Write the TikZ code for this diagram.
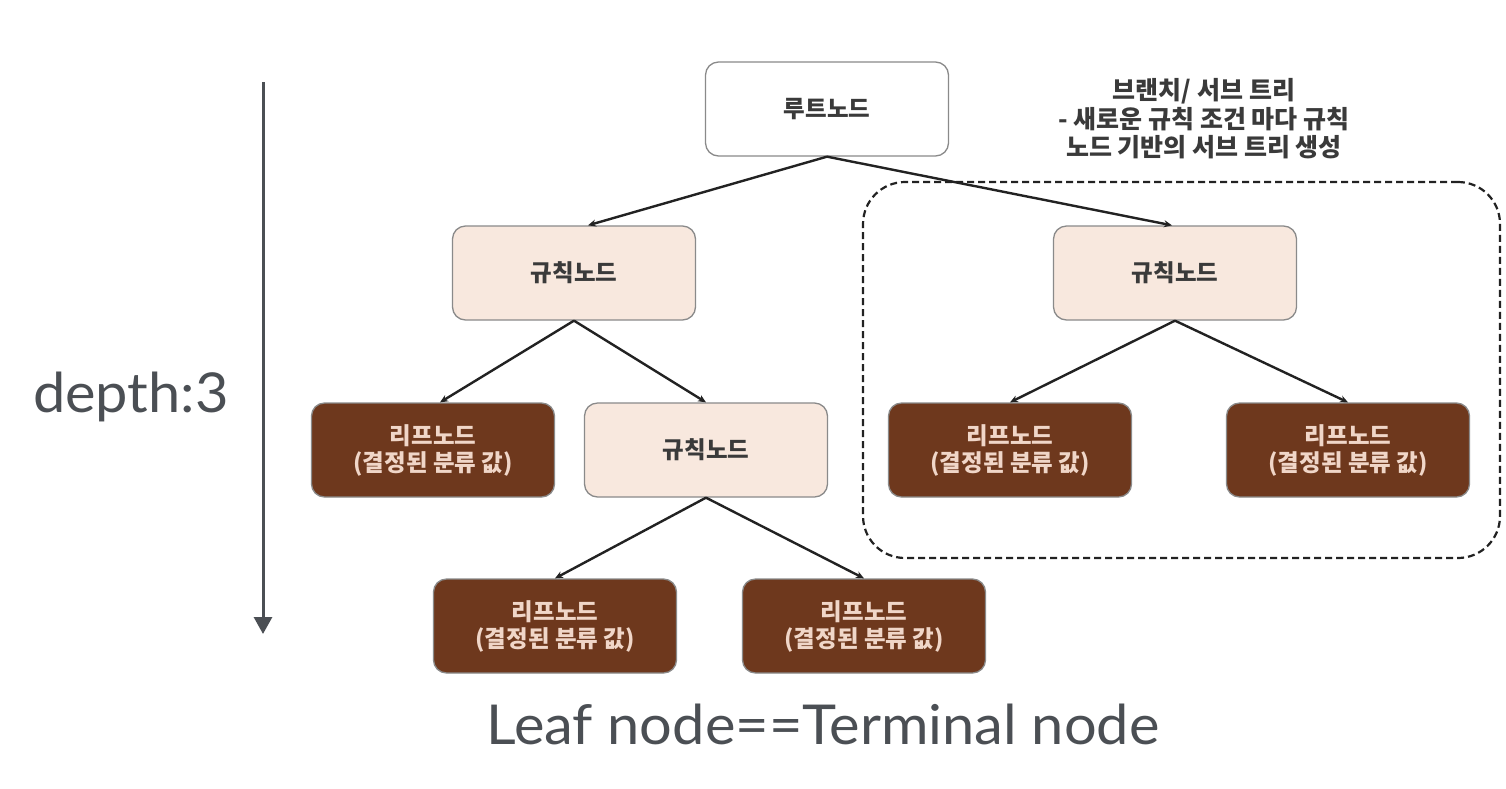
\documentclass[tikz,border=0pt]{standalone}
\usepackage{fontspec}
\setmainfont{Lato}
\newfontfamily\latin[FakeStretch=1.05]{Lato}
\newfontfamily\kr{Noto Sans CJK KR}
\usetikzlibrary{arrows.meta}
\definecolor{txtgray}{HTML}{4B4F54}
\definecolor{leaffill}{HTML}{6E381D}
\definecolor{leaftext}{HTML}{F0D6C8}
\definecolor{rulefill}{HTML}{F8E8DE}
\definecolor{boxborder}{HTML}{8A8A8A}
\definecolor{linecol}{HTML}{222222}
\definecolor{krtext}{HTML}{3A3A3A}
\tikzset{
  basebox/.style={draw=boxborder, line width=1.3pt, rounded corners=13pt,
    minimum width=243pt, minimum height=94pt, align=center,
    font=\kr\bfseries\fontsize{23.5}{27}\selectfont},
  rootbox/.style={basebox, fill=white, text=krtext},
  rulebox/.style={basebox, fill=rulefill, text=krtext},
  leafbox/.style={basebox, fill=leaffill, text=leaftext},
  conn/.style={draw=linecol, line width=2.4pt, -{Stealth[length=8pt,width=7pt]}},
}
\begin{document}
\begin{tikzpicture}[x=1pt,y=-1pt]
\useasboundingbox[fill=white] (0,0) rectangle (1506,788);
% dashed subtree frame
\node (sub) [draw=linecol, line width=2.2pt, dash pattern=on 7pt off 4pt,
  rounded corners=42pt, minimum width=637pt, minimum height=376pt] at (1181.5,370) {};
\node (branch) [align=center, font=\kr\bfseries\fontsize{25}{28.5}\selectfont, text=krtext] at (1204,119)
  {브랜치/ 서브 트리\\- 새로운 규칙 조건 마다 규칙\\노드 기반의 서브 트리 생성};
% nodes
\node (root) [rootbox] at (827,109) {루트노드};
\node (l1) [rulebox] at (574,273) {규칙노드};
\node (r1) [rulebox] at (1175,273) {규칙노드};
\node (leafa) [leafbox] at (433,450) {리프노드\\(결정된 분류 값)};
\node (l2) [rulebox] at (706,450) {규칙노드};
\node (leafb) [leafbox] at (1010,450) {리프노드\\(결정된 분류 값)};
\node (leafc) [leafbox] at (1348,450) {리프노드\\(결정된 분류 값)};
\node (leafd) [leafbox] at (555,626) {리프노드\\(결정된 분류 값)};
\node (leafe) [leafbox] at (864,626) {리프노드\\(결정된 분류 값)};
% connectors
\draw[conn] (root.south) -- ([xshift=14pt]l1.north);
\draw[conn] (root.south) -- ([xshift=-3pt]r1.north);
\draw[conn] (l1.south) -- ([xshift=7pt]leafa.north);
\draw[conn] (l1.south) -- (l2.north);
\draw[conn] (l2.south) -- (leafd.north);
\draw[conn] (l2.south) -- (leafe.north);
\draw[conn] (r1.south) -- (leafb.north);
\draw[conn] (r1.south) -- (leafc.north);
% depth arrow
\coordinate (dtop) at (263,82);
\coordinate (dbot) at (263,634);
\draw[draw=txtgray, line width=3pt, -{Triangle[length=17pt,width=18pt]}] (dtop) -- (dbot);
\node (depth) [text=txtgray, font=\latin\fontsize{55}{60}\selectfont, anchor=base east, inner sep=0pt] at (229,412) {depth:3};
\node (leafnote) [text=txtgray, font=\latin\fontsize{55}{60}\selectfont, anchor=base, inner sep=0pt] at (823,744) {Leaf node==Terminal node};
\end{tikzpicture}
\end{document}
